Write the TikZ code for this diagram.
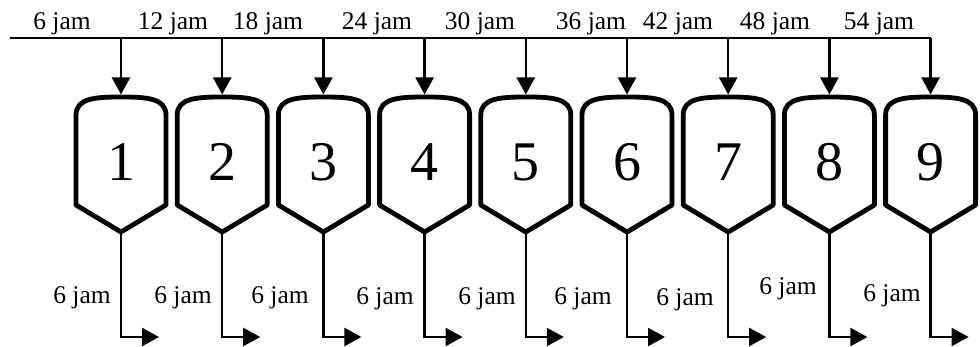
\documentclass[tikz,border=0pt]{standalone}
\usepackage{fontspec}
\setmainfont{Liberation Serif}
\usetikzlibrary{arrows.meta}
\begin{document}
\begin{tikzpicture}[x=1pt,y=-1pt,
  vessel/.style={line width=4.8pt, line join=round},
  flow/.style={line width=2.3pt, -{Triangle[length=17pt,width=18pt]}},
  lbl/.style={font=\fontsize{25.5}{25.5}\selectfont, inner sep=0pt, anchor=base},
  num/.style={font=\fontsize{56}{56}\selectfont, inner sep=0pt}]
\useasboundingbox (0,0) rectangle (980,347);
\coordinate (start) at (10,38);
\foreach \i/\tx/\bx/\by in {1/62/82/304, 2/173/183/304, 3/268/280/304, 4/377/385/305, 5/480/487/305, 6/591/583/305, 7/678/685/306, 8/775/788/295, 9/879/892/302} {
  \pgfmathsetmacro{\c}{121+101.2*(\i-1)}
  \pgfmathtruncatemacro{\h}{6*\i}
  \coordinate (in\i) at (\c,38);
  \coordinate (top\i) at (\c,97);
  \coordinate (tip\i) at (\c,94.5);
  \coordinate (bot\i) at (\c,232);
  \coordinate (end\i) at (\c+38,337);
  \draw[vessel] (bot\i) -- (\c-45,205) -- (\c-45,115) .. controls (\c-45,98) and (\c-25,97) .. (top\i) .. controls (\c+25,97) and (\c+45,98) .. (\c+45,115) -- (\c+45,205) -- cycle;
  \node[num] (v\i) at (\c,162) {\i};
  \draw[flow] (in\i) -- (tip\i);
  \draw[flow] (bot\i) |- (end\i);
  \node[lbl] (tl\i) at (\tx,30) {\h{} jam};
  \node[lbl] (bl\i) at (\bx,\by) {6 jam};
}
\draw[line width=2.3pt] (start) -- (in9);
\end{tikzpicture}
\end{document}
